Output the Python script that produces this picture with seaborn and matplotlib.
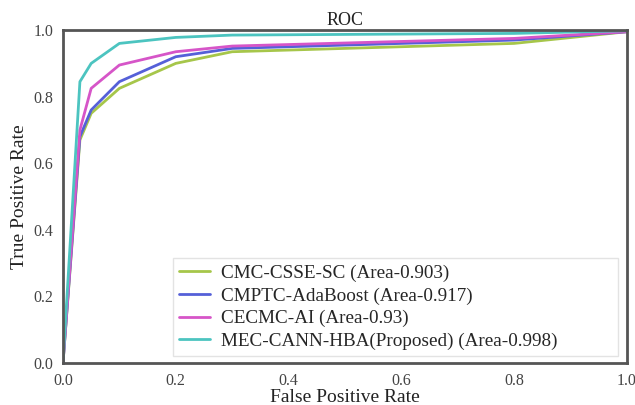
import numpy as np
import pandas as pd
import seaborn as sns
import matplotlib.pyplot as plt

fpr = [0.0, 0.03, 0.05, 0.1, 0.2, 0.3, 0.8, 1.0]
tpr_cmc = [0.0, 0.67, 0.75, 0.825, 0.90, 0.935, 0.96, 0.995]
tpr_cmptc = [0.0, 0.68, 0.76, 0.845, 0.92, 0.945, 0.97, 0.995]
tpr_cecmc = [0.0, 0.70, 0.825, 0.895, 0.935, 0.952, 0.975, 0.995]
tpr_mec = [0.0, 0.845, 0.90, 0.96, 0.978, 0.985, 0.99, 0.998]

labels = ["CMC-CSSE-SC (Area-0.903)",
          "CMPTC-AdaBoost (Area-0.917)",
          "CECMC-AI (Area-0.93)",
          "MEC-CANN-HBA(Proposed) (Area-0.998)"]
colors = ["#a6c64a", "#5560d8", "#d655c8", "#4cc4c0"]

rows = []
for lab, tpr in zip(labels, [tpr_cmc, tpr_cmptc, tpr_cecmc, tpr_mec]):
    for x, y in zip(fpr, tpr):
        rows.append({"fpr": x, "tpr": y, "model": lab})
df = pd.DataFrame(rows)

sns.set_style("white")
plt.rcParams['font.family'] = ['Liberation Serif', 'DejaVu Serif']

fig = plt.figure(figsize=(6.35, 4.05), dpi=100)
ax = fig.add_axes([0.0992, 0.1037, 0.888, 0.822])
sns.lineplot(data=df, x="fpr", y="tpr", hue="model", palette=colors,
             linewidth=2, ax=ax, sort=False)

ax.set_xlim(0, 1)
ax.set_ylim(0, 1)
ax.set_xticks(np.arange(0, 1.01, 0.2))
ax.set_yticks(np.arange(0, 1.01, 0.2))
ax.tick_params(axis="both", labelsize=11.5, colors="#444444", length=3, width=1, pad=4)
for s in ax.spines.values():
    s.set_color("#555555")
    s.set_linewidth(2)
ax.set_xlabel("False Positive Rate", fontsize=14, labelpad=0, color="#222222")
ax.set_ylabel("True Positive Rate", fontsize=14, labelpad=4, color="#222222")
ax.set_title("ROC", fontsize=13, pad=4, color="#222222")
# wide legend box, like the reference (extra room at the right)
ax.legend(loc="lower left", bbox_to_anchor=(0.195, 0.021, 0.789, 0.28),
          mode="expand", borderaxespad=0,
          fontsize=13.8, frameon=True, handlelength=1.65, handletextpad=0.55,
          labelspacing=0.28, borderpad=0.3, edgecolor="#dddddd", fancybox=False)

plt.savefig("out.png", dpi=100)
